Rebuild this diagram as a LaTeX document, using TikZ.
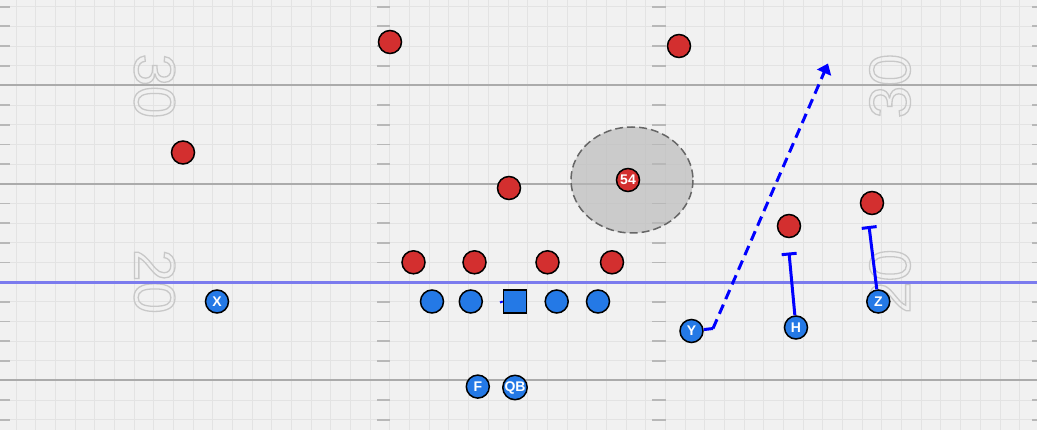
\documentclass[tikz,border=0pt]{standalone}
\usepackage{fontspec}
\setmainfont{Liberation Sans}
\usetikzlibrary{arrows.meta}
\definecolor{fieldbg}{HTML}{F1F1F1}
\definecolor{gridc}{HTML}{E3E3E3}
\definecolor{yardc}{HTML}{ABABAB}
\definecolor{losc}{HTML}{7B7BEE}
\definecolor{defc}{HTML}{D32F2F}
\definecolor{offc}{HTML}{2479E6}
\definecolor{numc}{HTML}{C8C8C8}
\definecolor{zonec}{HTML}{B8B8B8}
\newcommand\outlinetxt[1]{\special{pdf:literal direct 1 Tr 1.3 w}#1\special{pdf:literal direct 0 Tr}}
\tikzset{
  player/.style={circle, draw=black, line width=1.5pt, minimum size=23pt, inner sep=0pt,
    text=white, font=\bfseries\fontsize{14}{14}\selectfont},
  def/.style={player, fill=defc},
  off/.style={player, fill=offc},
  centersq/.style={rectangle, draw=black, line width=1.5pt, minimum size=23pt, inner sep=0pt, fill=offc},
  route/.style={draw=blue, line width=3pt},
  yardnum/.style={text=numc, font=\fontsize{58}{58}\selectfont, inner sep=0pt},
  zone/.style={draw=black!60, line width=1.5pt, dash pattern=on 8pt off 4pt, fill=zonec, fill opacity=0.65},
  hash/.style={draw=yardc!85, line width=1.8pt},
}
\begin{document}
\begin{tikzpicture}[x=1pt,y=-1pt]
\useasboundingbox (0,0) rectangle (1037,430);
\clip (0,0) rectangle (1037,430);
\fill[fieldbg] (0,0) rectangle (1037,430);
% grid
\foreach \k in {0,...,52} \draw[gridc, line width=1pt] ({16+19.68*\k},0) -- ({16+19.68*\k},430);
\foreach \k in {-4,...,17} \draw[gridc, line width=1pt] (0,{85.4+19.68*\k}) -- (1037,{85.4+19.68*\k});
% hash marks
\foreach \k in {-4,-3,-2,-1,1,2,3,4,6,7,8,9,11,12,13,14,16,17}{
  \draw[hash] (0,{85.4+19.68*\k}) -- (10,{85.4+19.68*\k});
  \draw[hash] (377,{85.4+19.68*\k}) -- (390,{85.4+19.68*\k});
  \draw[hash] (652,{85.4+19.68*\k}) -- (665.5,{85.4+19.68*\k});
  \draw[hash] (1032,{85.4+19.68*\k}) -- (1040,{85.4+19.68*\k});
}
% yard lines
\foreach \yy in {85.4,184,282.2,380.4} \draw[yardc, line width=2pt] (0,\yy) -- (1037,\yy);
% numbers
\node[yardnum, rotate=-90] (n30l) at (154.5,86) {\outlinetxt{30}};
\node[yardnum, rotate=-90] (n20l) at (154.5,281.5) {\outlinetxt{20}};
\node[yardnum, rotate=90] (n30r) at (890,86) {\outlinetxt{30}};
\node[yardnum, rotate=90] (n20r) at (890,281.5) {\outlinetxt{20}};
% line of scrimmage
\draw[losc, line width=3pt] (0,282.2) -- (1037,282.2);
% zone
\draw[zone] (632,180) ellipse [x radius=61, y radius=53];
% defense
\node[def] (d1) at (390,42) {};
\node[def] (d2) at (679,46) {};
\node[def] (d3) at (183,152.5) {};
\node[def] (d4) at (509,188) {};
\node[def] (lb54) at (628,180) {54};
\node[def] (d6) at (789,226) {};
\node[def] (d7) at (872,203) {};
\node[def] (dl1) at (413.5,262.3) {};
\node[def] (dl2) at (474.5,262.3) {};
\node[def] (dl3) at (547.5,262.3) {};
\node[def] (dl4) at (612,262.3) {};
% offense
\node[off] (X) at (217,301.5) {X};
\node[off] (lt) at (432,301.5) {};
\node[off] (lg) at (470.8,301.5) {};
\node[centersq] (C) at (515,301.5) {};
\node[off] (rg) at (556.7,301.5) {};
\node[off] (rt) at (598,301.5) {};
\node[off] (F) at (477.8,386.6) {F};
\node[off] (QB) at (515,387.5) {QB};
\node[off] (Y) at (691.5,331) {Y};
\node[off] (H) at (796,327.5) {H};
\node[off] (Z) at (878.3,301.5) {Z};
% routes
\coordinate (cstub) at (500,302.5);
\draw[draw=blue, line width=2pt] (C.west) -- (cstub);
\coordinate (ybreak) at (713,328.5);
\coordinate (ytip) at (828,63.5);
\draw[route] (Y) -- (ybreak);
\draw[route, dash pattern=on 10pt off 6pt, -{Triangle[length=10pt,width=15pt]}] (ybreak) -- (ytip);
\coordinate (hend) at (789,252.5);
\coordinate (zend) at (869,226);
\draw[route, -{Bar[width=15pt,line width=3pt]}] (H) -- (hend);
\draw[route, -{Bar[width=15pt,line width=3pt]}] (Z) -- (zend);
\end{tikzpicture}
\end{document}
